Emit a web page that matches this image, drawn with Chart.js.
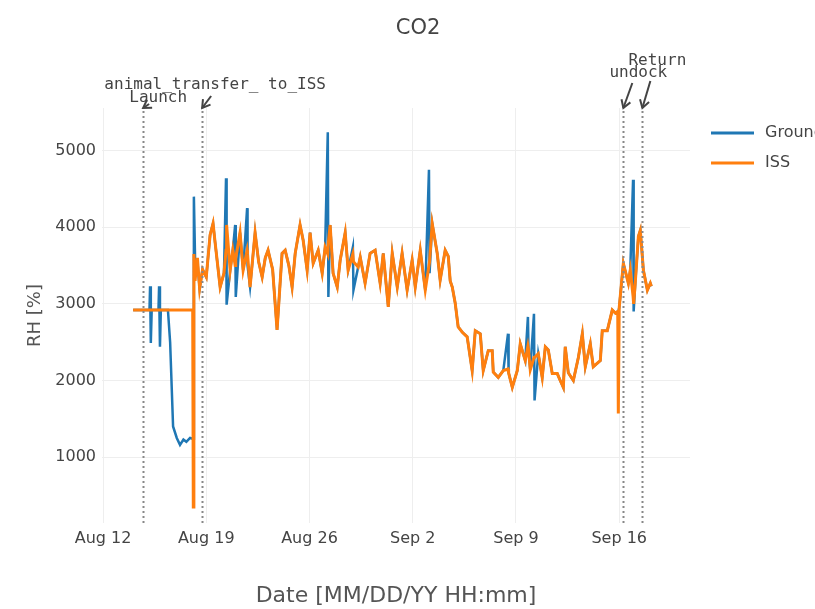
<!DOCTYPE html>
<html lang="en">
<head>
<meta charset="UTF-8">
<title>CO2</title>
<script src="https://cdn.jsdelivr.net/npm/chart.js"></script>
<style>
  html, body { margin: 0; padding: 0; background: #fff; }
</style>
</head>
<body>
<canvas id="co2Chart" width="815" height="609"></canvas>
<script>
// time axis: days since Aug 12 00:00
var days = [
  2.04, 2.60, 3.15, 3.19, 3.24, 3.30, 3.76, 3.80, 3.86, 3.92,
  4.40, 4.55, 4.75, 5.00, 5.22, 5.45, 5.65, 5.90, 6.08, 6.12,
  6.16, 6.24, 6.40, 6.55, 6.75, 7.00, 7.26, 7.46, 7.60, 7.94,
  8.20, 8.34, 8.38, 8.62, 8.80, 8.96, 9.00, 9.29, 9.50, 9.77,
  9.80, 9.97, 10.31, 10.55, 10.79, 11.00, 11.19, 11.50, 11.80, 12.14,
  12.35, 12.60, 12.82, 13.03, 13.36, 13.57, 13.84, 14.04, 14.25, 14.59,
  14.86, 15.06, 15.24, 15.28, 15.40, 15.60, 15.88, 16.08, 16.42, 16.62,
  16.94, 16.98, 17.30, 17.44, 17.77, 18.11, 18.45, 18.79, 19.00, 19.34,
  19.61, 19.95, 20.28, 20.62, 20.96, 21.17, 21.51, 21.85, 22.10, 22.14,
  22.32, 22.66, 22.86, 23.20, 23.41, 23.54, 23.68, 23.88, 24.08, 24.36,
  24.69, 25.03, 25.24, 25.58, 25.78, 26.12, 26.39, 26.46, 26.80, 27.14,
  27.46, 27.50, 27.75, 28.09, 28.29, 28.63, 28.81, 28.85, 28.97, 29.22,
  29.26, 29.51, 29.78, 29.99, 30.19, 30.46, 30.80, 31.00, 31.21, 31.34,
  31.55, 31.89, 32.23, 32.50, 32.70, 33.04, 33.24, 33.72, 33.85, 34.19,
  34.53, 34.74, 34.90, 34.94, 35.00, 35.28, 35.62, 35.75, 35.94, 35.98,
  36.09, 36.30, 36.43, 36.64, 36.91, 37.11, 37.18
];
var ground = [
  2920, 2920, 2920, 3230, 2490, 2920, 2920, 3230, 2440, 2920,
  2920, 2500, 1400, 1250, 1160, 1230, 1200, 1250, 1240, 1240,
  4400, 3600, 3550, 3200, 3450, 3350, 3900, 4050, 3800, 3220,
  3400, 4640, 2990, 3440, 3700, 4030, 3090, 3930, 3440, 4250,
  3500, 3220, 3930, 3550, 3350, 3600, 3700, 3450, 2660, 3660,
  3700, 3500, 3220, 3660, 4030, 3830, 3440, 3930, 3530, 3700,
  3400, 3740, 5240, 3090, 4030, 3400, 3220, 3570, 3930, 3440,
  3740, 3180, 3480, 3610, 3270, 3660, 3700, 3270, 3660, 2960,
  3660, 3220, 3660, 3180, 3570, 3220, 3700, 3180, 4750, 3400,
  4050, 3660, 3310, 3700, 3620, 3300, 3220, 3010, 2700, 2630,
  2570, 2130, 2650, 2610, 2130, 2390, 2390, 2110, 2040, 2130,
  2610, 2100, 1910, 2130, 2480, 2260, 2830, 2400, 2140, 2870,
  1740, 2350, 2040, 2440, 2400, 2090, 2090, 2000, 1910, 2440,
  2100, 2000, 2300, 2610, 2180, 2480, 2180, 2260, 2650, 2650,
  2920, 2880, 2900, 2900, 2950, 3530, 3270, 3440, 4620, 2900,
  3280, 3880, 3960, 3440, 3180, 3270, 3230
];
var iss = [
  2920, 2920, 2920, 2920, 2920, 2920, 2920, 2920, 2920, 2920,
  2920, 2920, 2920, 2920, 2920, 2920, 2920, 2920, 2920, 350,
  3650, 3300, 3600, 3200, 3450, 3350, 3900, 4050, 3800, 3220,
  3400, 3700, 4030, 3440, 3700, 3500, 3600, 3930, 3440, 3700,
  3650, 3220, 3930, 3550, 3350, 3600, 3700, 3450, 2660, 3660,
  3700, 3500, 3220, 3660, 4030, 3830, 3440, 3930, 3530, 3700,
  3400, 3740, 3650, 3800, 4030, 3400, 3220, 3570, 3930, 3440,
  3650, 3550, 3480, 3610, 3270, 3660, 3700, 3270, 3660, 2960,
  3660, 3220, 3660, 3180, 3570, 3220, 3700, 3180, 3500, 3550,
  4050, 3660, 3310, 3700, 3620, 3300, 3220, 3010, 2700, 2630,
  2570, 2130, 2650, 2610, 2130, 2390, 2390, 2110, 2040, 2130,
  2150, 2100, 1910, 2130, 2480, 2260, 2450, 2400, 2140, 2300,
  2300, 2350, 2040, 2440, 2400, 2090, 2090, 2000, 1910, 2440,
  2100, 2000, 2300, 2610, 2180, 2480, 2180, 2260, 2650, 2650,
  2920, 2880, 2900, 1570, 2950, 3530, 3270, 3440, 3100, 3000,
  3280, 3880, 3960, 3440, 3180, 3270, 3230
];
var tickDays = [0, 7, 14, 21, 28, 35];
var tickLabels = ['Aug 12', 'Aug 19', 'Aug 26', 'Sep 2', 'Sep 9', 'Sep 16'];
var yTicks = [1000, 2000, 3000, 4000, 5000];
var eventNames = ['Launch', 'animal_transfer_ to_ISS', 'undock', 'Return'];
var eventDays = [2.72, 6.72, 35.28, 36.57];

var GROUND_COLOR = '#1f77b4';
var ISS_COLOR = '#ff7f0e';
var TEXT_COLOR = '#444';

function toPoints(vals) {
  return days.map(function (d, i) { return { x: d, y: vals[i] }; });
}

// title, legend, event lines and arrows
var decorations = {
  id: 'decorations',
  afterDatasetsDraw: function (chart) {
    var ctx = chart.ctx;
    var area = chart.chartArea;
    var xs = chart.scales.x;

    ctx.save();
    // dotted event lines
    ctx.strokeStyle = '#888';
    ctx.lineWidth = 2;
    ctx.setLineDash([2, 3]);
    eventDays.forEach(function (d) {
      var px = Math.round(xs.getPixelForValue(d)) + 0.5;
      ctx.beginPath();
      ctx.moveTo(px, area.top + 3);
      ctx.lineTo(px, area.bottom);
      ctx.stroke();
    });
    ctx.setLineDash([]);

    // labels with arrows (offsets from the arrow head)
    var offs = [
      { tx: 15, ty: -10, ax: 6, ay: -4 },
      { tx: 13, ty: -23, ax: 9, ay: -12 },
      { tx: 15, ty: -35, ax: 9, ay: -25 },
      { tx: 15, ty: -47, ax: 8, ay: -27 }
    ];
    ctx.font = '16px "DejaVu Sans Mono"';
    ctx.textAlign = 'center';
    ctx.textBaseline = 'middle';
    eventDays.forEach(function (d, i) {
      var hx = xs.getPixelForValue(d);
      var hy = area.top;
      var o = offs[i];
      var tx = hx + o.ax, ty = hy + o.ay;
      ctx.strokeStyle = TEXT_COLOR;
      ctx.lineWidth = 2;
      ctx.beginPath();
      ctx.moveTo(tx, ty);
      ctx.lineTo(hx, hy);
      ctx.stroke();
      var ang = Math.atan2(hy - ty, hx - tx);
      ctx.beginPath();
      ctx.moveTo(hx - 9 * Math.cos(ang - 0.55), hy - 9 * Math.sin(ang - 0.55));
      ctx.lineTo(hx, hy);
      ctx.lineTo(hx - 9 * Math.cos(ang + 0.55), hy - 9 * Math.sin(ang + 0.55));
      ctx.stroke();
      ctx.fillStyle = TEXT_COLOR;
      ctx.fillText(eventNames[i], hx + o.tx, hy + o.ty);
    });

    // chart title
    ctx.font = '21px "DejaVu Sans"';
    ctx.fillText('CO2', 418, 29);

    // legend
    ctx.font = '16px "DejaVu Sans"';
    ctx.textAlign = 'left';
    [['Ground', GROUND_COLOR, 133], ['ISS', ISS_COLOR, 163]].forEach(function (it) {
      ctx.strokeStyle = it[1];
      ctx.lineWidth = 3;
      ctx.beginPath();
      ctx.moveTo(711, it[2]);
      ctx.lineTo(754, it[2]);
      ctx.stroke();
      ctx.fillStyle = TEXT_COLOR;
      ctx.fillText(it[0], 765, it[2]);
    });
    ctx.restore();
  }
};

var chart = new Chart(document.getElementById('co2Chart'), {
  type: 'line',
  data: {
    datasets: [{
      label: 'Ground',
      data: toPoints(ground),
      borderColor: GROUND_COLOR,
      borderWidth: 2.5,
      pointRadius: 0,
      order: 2
    }, {
      label: 'ISS',
      data: toPoints(iss),
      borderColor: ISS_COLOR,
      borderWidth: 3,
      pointRadius: 0,
      order: 1
    }]
  },
  options: {
    responsive: false,
    animation: false,
    devicePixelRatio: 1,
    layout: { padding: { top: 108, right: 125, left: 0, bottom: 0 } },
    plugins: {
      legend: { display: false },
      tooltip: { enabled: false }
    },
    scales: {
      x: {
        type: 'linear',
        min: -0.07,
        max: 39.8,
        afterBuildTicks: function (s) {
          s.ticks = tickDays.map(function (v) { return { value: v }; });
        },
        afterFit: function (s) { s.height = 86; },
        ticks: {
          autoSkip: false,
          maxRotation: 0,
          padding: 6,
          color: TEXT_COLOR,
          font: { family: 'DejaVu Sans', size: 16 },
          callback: function (v) {
            var i = tickDays.indexOf(v);
            return i >= 0 ? tickLabels[i] : '';
          }
        },
        grid: { color: '#eee', drawTicks: false },
        border: { display: false },
        title: {
          display: true,
          text: 'Date [MM/DD/YY HH:mm]',
          color: '#555',
          font: { family: 'DejaVu Sans', size: 22 },
          padding: { top: 0, bottom: 0 }
        }
      },
      y: {
        min: 140,
        max: 5557,
        afterBuildTicks: function (s) {
          s.ticks = yTicks.map(function (v) { return { value: v }; });
        },
        afterFit: function (s) { s.width = 102; },
        ticks: {
          padding: 6,
          color: TEXT_COLOR,
          font: { family: 'DejaVu Sans', size: 16 },
          callback: function (v) { return String(v); }
        },
        grid: { color: '#eee', drawTicks: false },
        border: { display: false },
        title: {
          display: true,
          text: 'RH [%]',
          color: '#555',
          font: { family: 'DejaVu Sans', size: 18 },
          padding: { top: 25, bottom: 0 }
        }
      }
    }
  },
  plugins: [decorations]
});
</script>
</body>
</html>
